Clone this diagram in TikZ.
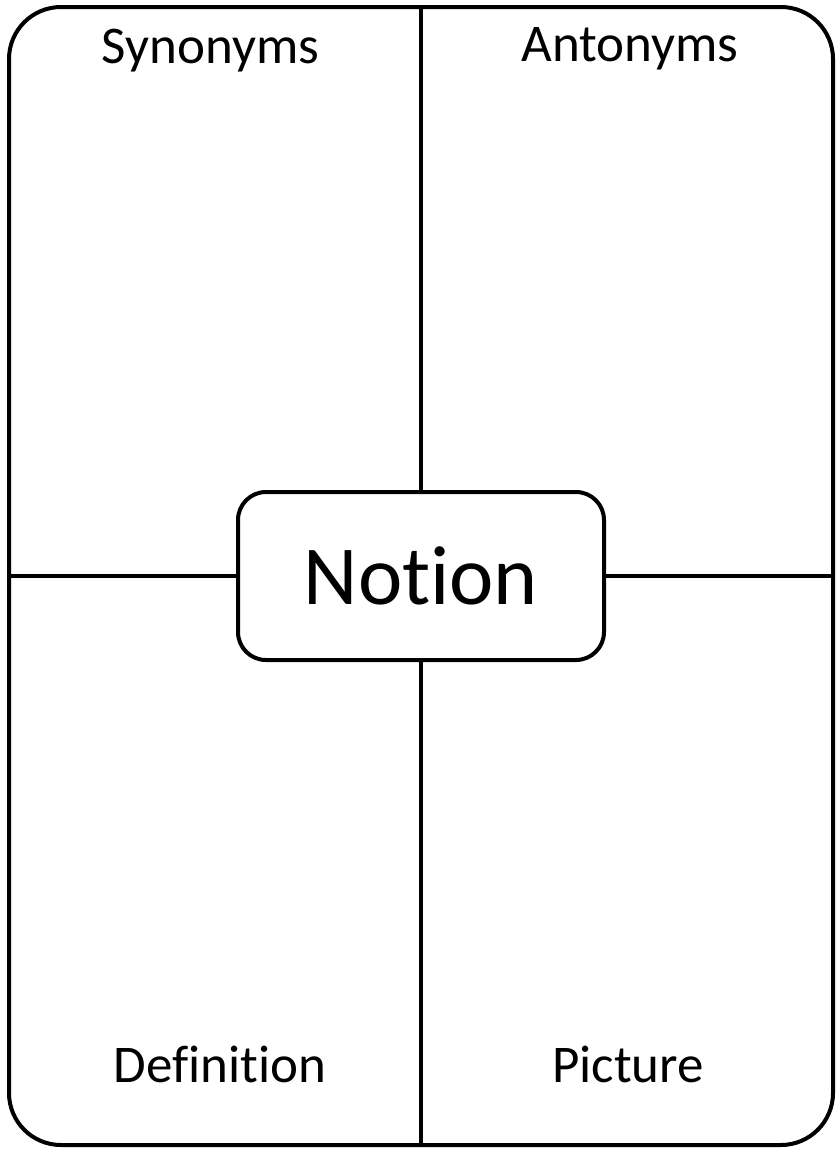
\documentclass[tikz,border=0pt]{standalone}
\usepackage{fontspec}
\setmainfont[Ligatures=NoCommon]{Carlito}
\usepackage{tikz}
\usetikzlibrary{positioning}

\begin{document}
\begin{tikzpicture}[x=1pt, y=-1pt, line width=4pt]
    \tikzset{
        label/.style={anchor=base, font=\fontsize{53}{60}\selectfont},
        centre/.style={draw, rounded corners=28pt, minimum width=366pt,
            minimum height=168pt, inner sep=0pt, font=\fontsize{84}{96}\selectfont}
    }
    \useasboundingbox (0,0) rectangle (840,1149);

    % Cadre extérieur
    \draw[rounded corners=52pt] (9,7) rectangle (833,1145);

    % Bulle centrale
    \node[centre] (notion) at (421,576) {Notion};

    % Points d'attache sur le cadre
    \coordinate (haut) at (421,7);
    \coordinate (bas) at (421,1145);
    \coordinate (gauche) at (9,576);
    \coordinate (droite) at (833,576);

    % Séparations des quatre cases
    \draw (haut) -- (notion.north);
    \draw (notion.south) -- (bas);
    \draw (gauche) -- (notion.west);
    \draw (notion.east) -- (droite);

    % Titres des cases
    \node[label] (syn) at (210.5,63) {Synonyms};
    \node[label] (ant) at (630,61) {Antonyms};
    \node[label] (def) at (220,1082) {Definition};
    \node[label] (pic) at (628,1082) {Picture};
\end{tikzpicture}
\end{document}
